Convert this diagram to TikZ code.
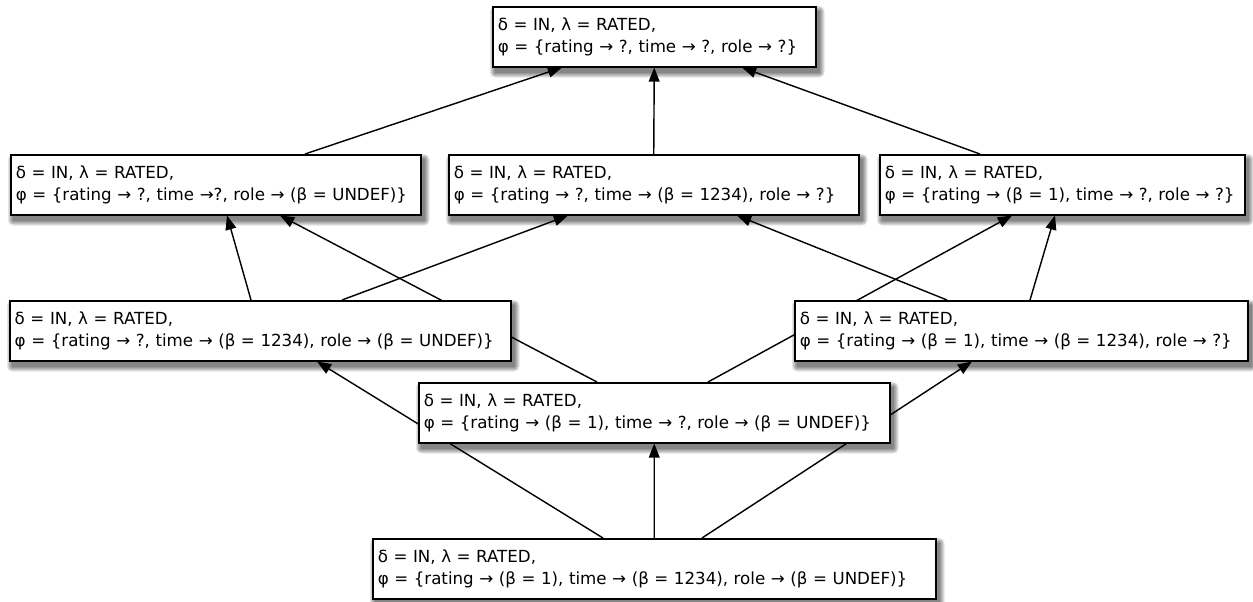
\documentclass[tikz,border=0pt]{standalone}
\usepackage{fontspec}
\setmainfont{DejaVu Sans}
\usetikzlibrary{calc,arrows.meta}

\pgfdeclarelayer{shadow}
\pgfdeclarelayer{edges}
\pgfsetlayers{shadow,edges,main}

% soft drop shadow below a named box
\newcommand\castshadow[1]{%
  \foreach \k in {0,...,5}{%
    \fill[black, opacity=0.1, rounded corners=\k*0.6pt]
      ($(#1.north west)+(3-\k,5-\k)$) rectangle ($(#1.south east)+(3+\k,5+\k)$);
  }%
}

\tikzset{
  lattice/.style={draw=black, line width=0.9pt, fill=white, anchor=north west,
    align=left, inner xsep=3pt, inner ysep=0pt, minimum height=36pt,
    font=\fontsize{10pt}{13.5pt}\selectfont},
  order/.style={line width=0.85pt, -{Triangle[length=8.5pt,width=6.5pt]}}
}

\begin{document}
\begin{tikzpicture}[x=0.6pt, y=-0.6pt]
\useasboundingbox (0,0) rectangle (1253,601);

% abstract states, most general at the top
\node[lattice, text width=187.8pt] (top) at (492,6)
  {δ = IN, λ = RATED,\\φ = \{rating → ?, time → ?, role → ?\}};

\node[lattice, text width=240pt] (r2l) at (10,154)
  {δ = IN, λ = RATED,\\φ = \{rating → ?, time →?, role → (β = UNDEF)\}};
\node[lattice, text width=240pt] (r2m) at (448,154)
  {δ = IN, λ = RATED,\\φ = \{rating → ?, time → (β = 1234), role → ?\}};
\node[lattice, text width=213pt] (r2r) at (879,154)
  {δ = IN, λ = RATED,\\φ = \{rating → (β = 1), time → ?, role → ?\}};

\node[lattice, text width=294.6pt] (r3l) at (9,300)
  {δ = IN, λ = RATED,\\φ = \{rating → ?, time → (β = 1234), role → (β = UNDEF)\}};
\node[lattice, text width=265.8pt] (r3r) at (794,300)
  {δ = IN, λ = RATED,\\φ = \{rating → (β = 1), time → (β = 1234), role → ?\}};

\node[lattice, text width=276.6pt] (r4m) at (418,382)
  {δ = IN, λ = RATED,\\φ = \{rating → (β = 1), time → ?, role → (β = UNDEF)\}};

\node[lattice, text width=331.8pt] (bot) at (372,538)
  {δ = IN, λ = RATED,\\φ = \{rating → (β = 1), time → (β = 1234), role → (β = UNDEF)\}};

\begin{pgfonlayer}{shadow}
  \castshadow{top}
  \castshadow{r2l}\castshadow{r2m}\castshadow{r2r}
  \castshadow{r3l}\castshadow{r3r}
  \castshadow{r4m}
  \castshadow{bot}
\end{pgfonlayer}

\begin{pgfonlayer}{edges}
  % second row to top
  \draw[order] ($(r2l.north west)+(295,0)$) -- ($(top.south west)+(70,0)$);
  \draw[order] (r2m.north) -- (top.south);
  \draw[order] ($(r2r.north west)+(101,0)$) -- ($(top.south west)+(250,0)$);
  % third row to second row
  \draw[order] ($(r3l.north west)+(242,0)$) -- ($(r2l.south west)+(217,0)$);
  \draw[order] ($(r4m.north west)+(179,0)$) -- ($(r2l.south west)+(270,0)$);
  \draw[order] ($(r3l.north west)+(333,0)$) -- ($(r2m.south west)+(120,0)$);
  \draw[order] ($(r3r.north west)+(153,0)$) -- ($(r2m.south west)+(289,0)$);
  \draw[order] ($(r4m.north west)+(290,0)$) -- ($(r2r.south west)+(133,0)$);
  \draw[order] ($(r3r.north west)+(236,0)$) -- ($(r2r.south west)+(176,0)$);
  % bottom to third row
  \draw[order] ($(bot.north west)+(231,0)$) -- ($(r3l.south west)+(308,0)$);
  \draw[order] (bot.north) -- (r4m.south);
  \draw[order] ($(bot.north west)+(330,0)$) -- ($(r3r.south west)+(178,0)$);
\end{pgfonlayer}
\end{tikzpicture}
\end{document}
